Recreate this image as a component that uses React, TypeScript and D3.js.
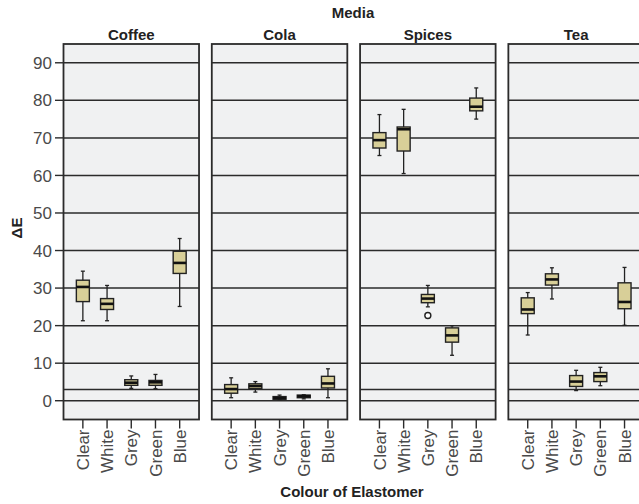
import React from "react";
import * as d3 from "d3";

// Colour of elastomer categories and media panels
const colours = ["Clear", "White", "Grey", "Green", "Blue"];
const media = ["Coffee", "Cola", "Spices", "Tea"];

// each entry: [lower whisker, q1, median, q3, upper whisker]
const coffee = [
  [21.3, 26.4, 30.3, 32.1, 34.5],
  [21.3, 24.3, 25.8, 27.2, 30.7],
  [3.3, 4.1, 4.8, 5.6, 6.6],
  [3.2, 4.1, 4.9, 5.4, 7.0],
  [25.1, 33.9, 36.7, 39.8, 43.2],
];
const cola = [
  [0.8, 2.0, 3.1, 4.3, 6.1],
  [2.3, 3.2, 3.9, 4.5, 5.1],
  [0.3, 0.4, 0.7, 1.1, 1.5],
  [0.5, 0.8, 1.2, 1.5, 1.6],
  [0.8, 3.4, 4.6, 6.5, 8.5],
];
const spices = [
  [65.3, 67.3, 69.4, 71.4, 76.2],
  [60.5, 66.5, 72.3, 72.9, 77.6],
  [25.0, 26.1, 27.2, 28.3, 30.7],
  [12.1, 15.6, 17.4, 19.4, 20.0],
  [75.0, 77.2, 78.3, 80.6, 83.3],
];
const tea = [
  [17.5, 23.2, 24.3, 27.4, 28.8],
  [27.1, 30.8, 32.3, 33.8, 35.4],
  [2.7, 3.8, 5.1, 6.7, 8.1],
  [4.0, 5.1, 6.5, 7.5, 8.9],
  [20.1, 24.5, 26.3, 31.4, 35.5],
];
const outliers = [{ media: "Spices", colour: "Grey", value: 22.7 }];

const yTicks = [0, 10, 20, 30, 40, 50, 60, 70, 80, 90];
const refLine = 3;

const stats: Record<string, number[][]> = { Coffee: coffee, Cola: cola, Spices: spices, Tea: tea };

const W = 639, H = 504;
const top = 44, bottom = 419.5;
const font = "'Liberation Sans', Arial, sans-serif";
const line = "#2b2b2b";
const boxW = 13;

export default function App() {
  const y = d3.scaleLinear().domain([-5, 95]).range([bottom, top]);
  const panel = d3.scaleBand().domain(media).range([63.5, 643.9]).paddingInner(0.086);
  const x = d3.scalePoint().domain(colours).range([0, panel.bandwidth()]).padding(0.8);
  const pw = panel.bandwidth();

  return (
    <svg width={W} height={H} style={{ position: "absolute", left: 0, top: 0, background: "#fff" }}>
      <text x={353} y={18} textAnchor="middle" fontFamily={font} fontWeight="bold" fontSize={15} fill="#222">
        Media
      </text>
      {yTicks.map((t) => (
        <g key={t}>
          <line x1={55} x2={63.5} y1={y(t)} y2={y(t)} stroke={line} strokeWidth={1.4} />
          <text x={52} y={y(t)} dy="0.36em" textAnchor="end" fontFamily={font} fontSize={17} fill="#4a4a4a">
            {t}
          </text>
        </g>
      ))}
      <text
        transform={`translate(22, 228) rotate(-90)`}
        textAnchor="middle"
        fontFamily={font}
        fontWeight="bold"
        fontSize={15}
        fill="#222"
      >
        ΔE
      </text>
      {media.map((m) => {
        const px = panel(m) as number;
        return (
          <g key={m} transform={`translate(${px},0)`}>
            <text x={pw / 2} y={40} textAnchor="middle" fontFamily={font} fontWeight="bold" fontSize={15} fill="#222">
              {m}
            </text>
            <rect x={0} y={top} width={pw} height={bottom - top} fill="#f0f1f2" />
            {[...yTicks, refLine].map((t) => (
              <line key={t} x1={0} x2={pw} y1={y(t)} y2={y(t)} stroke={line} strokeWidth={1.5} />
            ))}
            <rect x={0} y={top} width={pw} height={bottom - top} fill="none" stroke={line} strokeWidth={1.8} />
            {colours.map((c, i) => {
              const [lo, q1, med, q3, hi] = stats[m][i];
              const cx = x(c) as number;
              return (
                <g key={c}>
                  <line x1={cx} x2={cx} y1={bottom} y2={bottom + 9} stroke={line} strokeWidth={1.4} />
                  <text
                    transform={`translate(${cx},${bottom + 10}) rotate(-90)`}
                    dy="0.36em"
                    textAnchor="end"
                    fontFamily={font}
                    fontSize={17}
                    fill="#4a4a4a"
                  >
                    {c}
                  </text>
                  <line x1={cx} x2={cx} y1={y(hi)} y2={y(lo)} stroke="#222" strokeWidth={1.3} />
                  <line x1={cx - 2} x2={cx + 2} y1={y(hi)} y2={y(hi)} stroke="#222" strokeWidth={1.3} />
                  <line x1={cx - 2} x2={cx + 2} y1={y(lo)} y2={y(lo)} stroke="#222" strokeWidth={1.3} />
                  <rect
                    x={cx - boxW / 2}
                    y={y(q3)}
                    width={boxW}
                    height={y(q1) - y(q3)}
                    fill="#d8cf98"
                    stroke="#222"
                    strokeWidth={1.4}
                  />
                  <line x1={cx - boxW / 2} x2={cx + boxW / 2} y1={y(med)} y2={y(med)} stroke="#111" strokeWidth={2.6} />
                </g>
              );
            })}
            {outliers
              .filter((o) => o.media === m)
              .map((o, i) => (
                <circle key={i} cx={x(o.colour) as number} cy={y(o.value)} r={3} fill="#fff" stroke="#222" strokeWidth={1.4} />
              ))}
          </g>
        );
      })}
      <text x={352} y={497} textAnchor="middle" fontFamily={font} fontWeight="bold" fontSize={15} fill="#222">
        Colour of Elastomer
      </text>
    </svg>
  );
}
